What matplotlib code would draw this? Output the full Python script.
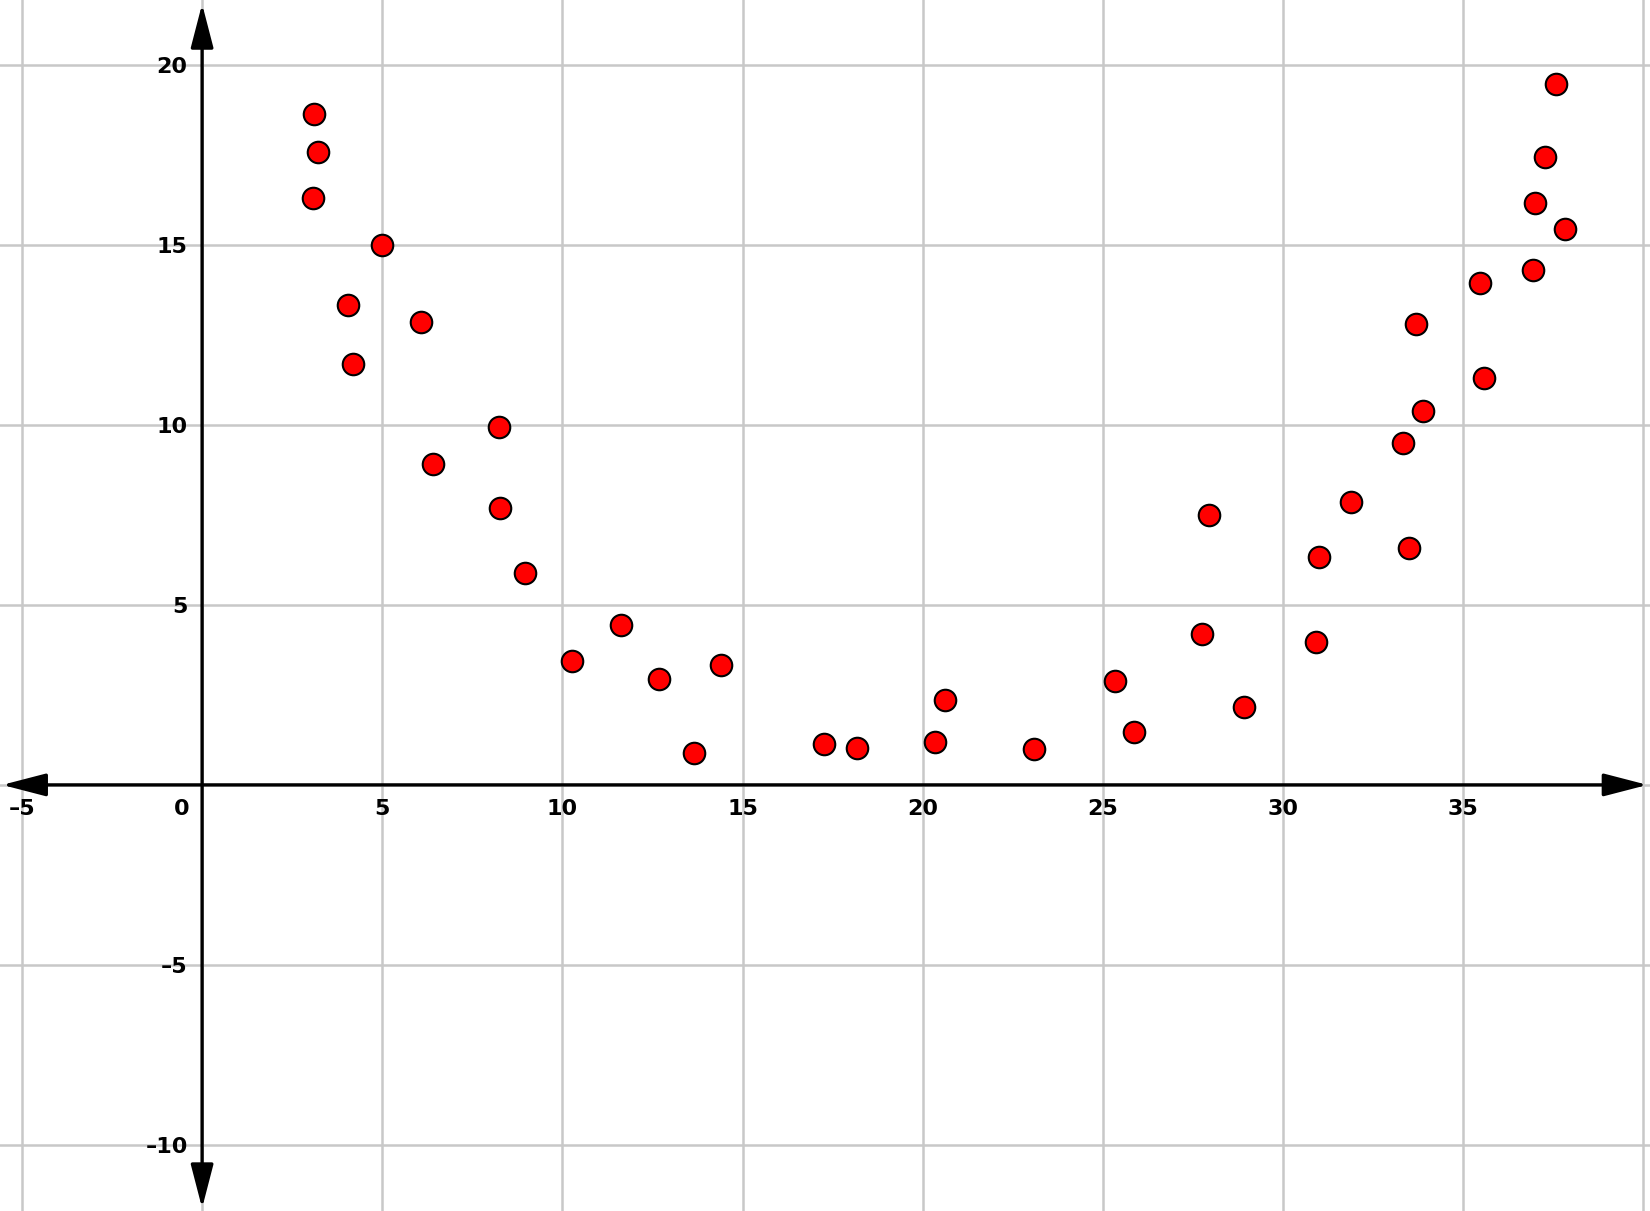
import numpy as np
import matplotlib
matplotlib.use('Agg')
import matplotlib.pyplot as plt
from matplotlib.patches import ArrowStyle

# data
x_pts = [3.10, 3.21, 3.07, 4.06, 4.18, 5.00, 6.07, 6.40, 8.24, 8.27,
         8.97, 10.28, 11.62, 12.68, 13.64, 14.40, 17.26, 18.17, 20.33, 20.62,
         23.10, 25.35, 25.88, 27.75, 27.95, 28.91, 30.93, 30.99, 31.89, 33.32,
         33.50, 33.70, 33.88, 35.46, 35.57, 36.94, 37.00, 37.27, 37.59, 37.82]
y_pts = [18.63, 17.60, 16.32, 13.33, 11.70, 15.00, 12.87, 8.92, 9.94, 7.69,
         5.88, 3.45, 4.44, 2.95, 0.88, 3.33, 1.14, 1.02, 1.20, 2.37,
         0.99, 2.89, 1.46, 4.18, 7.49, 2.16, 3.98, 6.32, 7.87, 9.50,
         6.58, 12.81, 10.38, 13.95, 11.32, 14.30, 16.17, 17.46, 19.47, 15.44]

x_ticks = [-5, 0, 5, 10, 15, 20, 25, 30, 35]
y_ticks = [-10, -5, 5, 10, 15, 20]
x_grid = [-5, 0, 5, 10, 15, 20, 25, 30, 35, 40]
y_grid = [-10, -5, 0, 5, 10, 15, 20]

fig = plt.figure(figsize=(16.5, 12.11), dpi=100)
ax = fig.add_axes([0, 0, 1, 1])
ax.set_xlim(-5.61, 40.19)
ax.set_ylim(-11.84, 21.81)
ax.axis('off')

#-- grid
for gx in x_grid:
    ax.axvline(gx, color='#c8c8c8', lw=1.8, zorder=0)
for gy in y_grid:
    ax.axhline(gy, color='#c8c8c8', lw=1.8, zorder=0)

#-- axes with arrows
arr = ArrowStyle('<|-|>', head_length=2.7, head_width=0.7)
ax.annotate('', xy=(40.12, 0), xytext=(-5.55, 0),
            arrowprops=dict(arrowstyle=arr, mutation_scale=10, lw=2.4,
                            color='black', shrinkA=0, shrinkB=0), zorder=2)
ax.annotate('', xy=(0, 21.70), xytext=(0, -11.76),
            arrowprops=dict(arrowstyle=arr, mutation_scale=10, lw=2.4,
                            color='black', shrinkA=0, shrinkB=0), zorder=2)

#-- tick labels
for t in x_ticks:
    lab = '\u20135' if t < 0 else str(t)
    if t == 0:
        ax.text(-0.35, -0.38, lab, ha='right', va='top', fontsize=16,
                fontweight='bold', zorder=3)
    else:
        ax.text(t, -0.38, lab, ha='center', va='top', fontsize=16,
                fontweight='bold', zorder=3)
for t in y_ticks:
    lab = str(t).replace('-', '\u2013')
    ax.text(-0.4, t - 0.05, lab, ha='right', va='center', fontsize=16,
            fontweight='bold', zorder=3)

#-- points
ax.plot(x_pts, y_pts, linestyle='none', marker='o', markersize=15.5,
        markerfacecolor='#ff0000', markeredgecolor='black',
        markeredgewidth=1.5, zorder=4)

plt.savefig('out.png', dpi=100)
plt.close()
